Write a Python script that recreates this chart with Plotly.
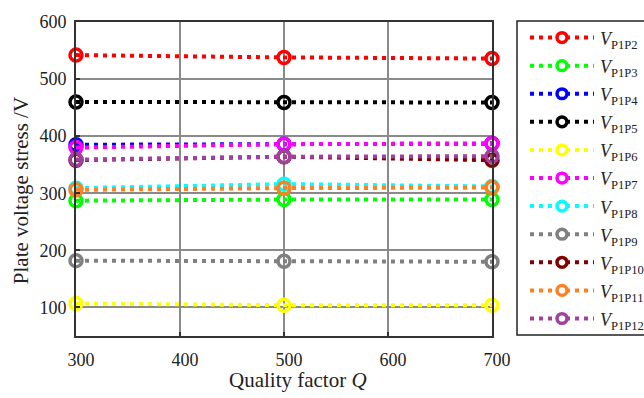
import plotly.graph_objects as go

q_values = [300, 500, 700]
series_names = ["P1P2", "P1P3", "P1P4", "P1P5", "P1P6", "P1P7",
                "P1P8", "P1P9", "P1P10", "P1P11", "P1P12"]
v_p1p2 = [542, 538, 536]
v_p1p3 = [287, 289, 289]
v_p1p4 = [385, 386, 387]
v_p1p5 = [460, 459, 459]
v_p1p6 = [107, 104, 104]
v_p1p7 = [380, 386, 387]
v_p1p8 = [309, 316, 312]
v_p1p9 = [182, 181, 180]
v_p1p10 = [358, 364, 358]
v_p1p11 = [306, 309, 310]
v_p1p12 = [359, 364, 365]
series_values = [v_p1p2, v_p1p3, v_p1p4, v_p1p5, v_p1p6, v_p1p7,
                 v_p1p8, v_p1p9, v_p1p10, v_p1p11, v_p1p12]
colors = ["#ff0000", "#00ff00", "#0000ff", "#000000", "#ffff00", "#ff00ff",
          "#00ffff", "#808080", "#800000", "#ff8020", "#a040a0"]
x_ticks = [300, 400, 500, 600, 700]
y_ticks = [100, 200, 300, 400, 500, 600]

FONT = "Liberation Serif, Times New Roman, serif"
W, H = 644, 398
ML, MR, MT, MB = 76, 152, 13, 62
PW, PH = W - ML - MR, H - MT - MB


def px(xp):
    return (xp - ML) / PW


def py(yp):
    return (H - MB - yp) / PH


DASH = "4px,5px"

fig = go.Figure()
for name, vals, col in zip(series_names, series_values, colors):
    fig.add_trace(go.Scatter(
        x=q_values, y=vals, mode="lines+markers",
        name=name, showlegend=False,
        line=dict(color=col, width=4, dash=DASH),
        marker=dict(symbol="circle-open", size=12, color=col,
                    line=dict(width=3.5, color=col)),
        cliponaxis=False,
    ))

axis_common = dict(
    showgrid=True, gridcolor="#8a8a8a", gridwidth=2,
    showline=True, linecolor="#333333", linewidth=2, mirror=True,
    ticks="inside", ticklen=4, tickcolor="#333333", tickwidth=1.5,
    zeroline=False,
    tickfont=dict(family=FONT, size=18, color="#222"),
)
fig.update_xaxes(range=[300, 700], tickvals=x_ticks, ticklabelshift=5,
                 ticklabelstandoff=6, **axis_common)
fig.update_yaxes(range=[50, 600], tickvals=y_ticks, ticklabelstandoff=4,
                 **axis_common)

shapes = []
annotations = []

# axis titles
annotations.append(dict(text="Quality factor <i>Q</i>", x=px(298), y=py(381),
                        xref="paper", yref="paper", showarrow=False,
                        xanchor="center", yanchor="middle",
                        font=dict(family=FONT, size=21, color="#222")))
annotations.append(dict(text="Plate voltage stress /V", x=px(21), y=py(187),
                        xref="paper", yref="paper", showarrow=False,
                        xanchor="center", yanchor="middle", textangle=-90,
                        font=dict(family=FONT, size=21, color="#222")))

# legend box
shapes.append(dict(type="rect", xref="paper", yref="paper",
                   x0=px(517), x1=px(645), y0=py(12), y1=py(335),
                   line=dict(color="#222", width=1.5), fillcolor="white",
                   layer="above"))
y0 = 29
step = (318 - 29) / 10
for i, (name, col) in enumerate(zip(series_names, colors)):
    yy = y0 + i * step
    shapes.append(dict(type="line", xref="paper", yref="paper",
                       x0=px(530), x1=px(594), y0=py(yy), y1=py(yy),
                       line=dict(color=col, width=4, dash=DASH), layer="above"))
    r = 5
    shapes.append(dict(type="circle", xref="paper", yref="paper",
                       x0=px(562 - r), x1=px(562 + r), y0=py(yy - r), y1=py(yy + r),
                       line=dict(color=col, width=3.5), fillcolor="white",
                       layer="above"))
    annotations.append(dict(text=f"<i>V</i><sub>{name}</sub>", x=px(598),
                            y=py(yy + 3), xref="paper", yref="paper",
                            showarrow=False, xanchor="left", yanchor="middle",
                            font=dict(family=FONT, size=18, color="#222")))

fig.update_layout(
    width=W, height=H,
    margin=dict(l=ML, r=MR, t=MT, b=MB),
    paper_bgcolor="white", plot_bgcolor="white",
    showlegend=False,
    shapes=shapes, annotations=annotations,
)

fig.write_html("out.html")
